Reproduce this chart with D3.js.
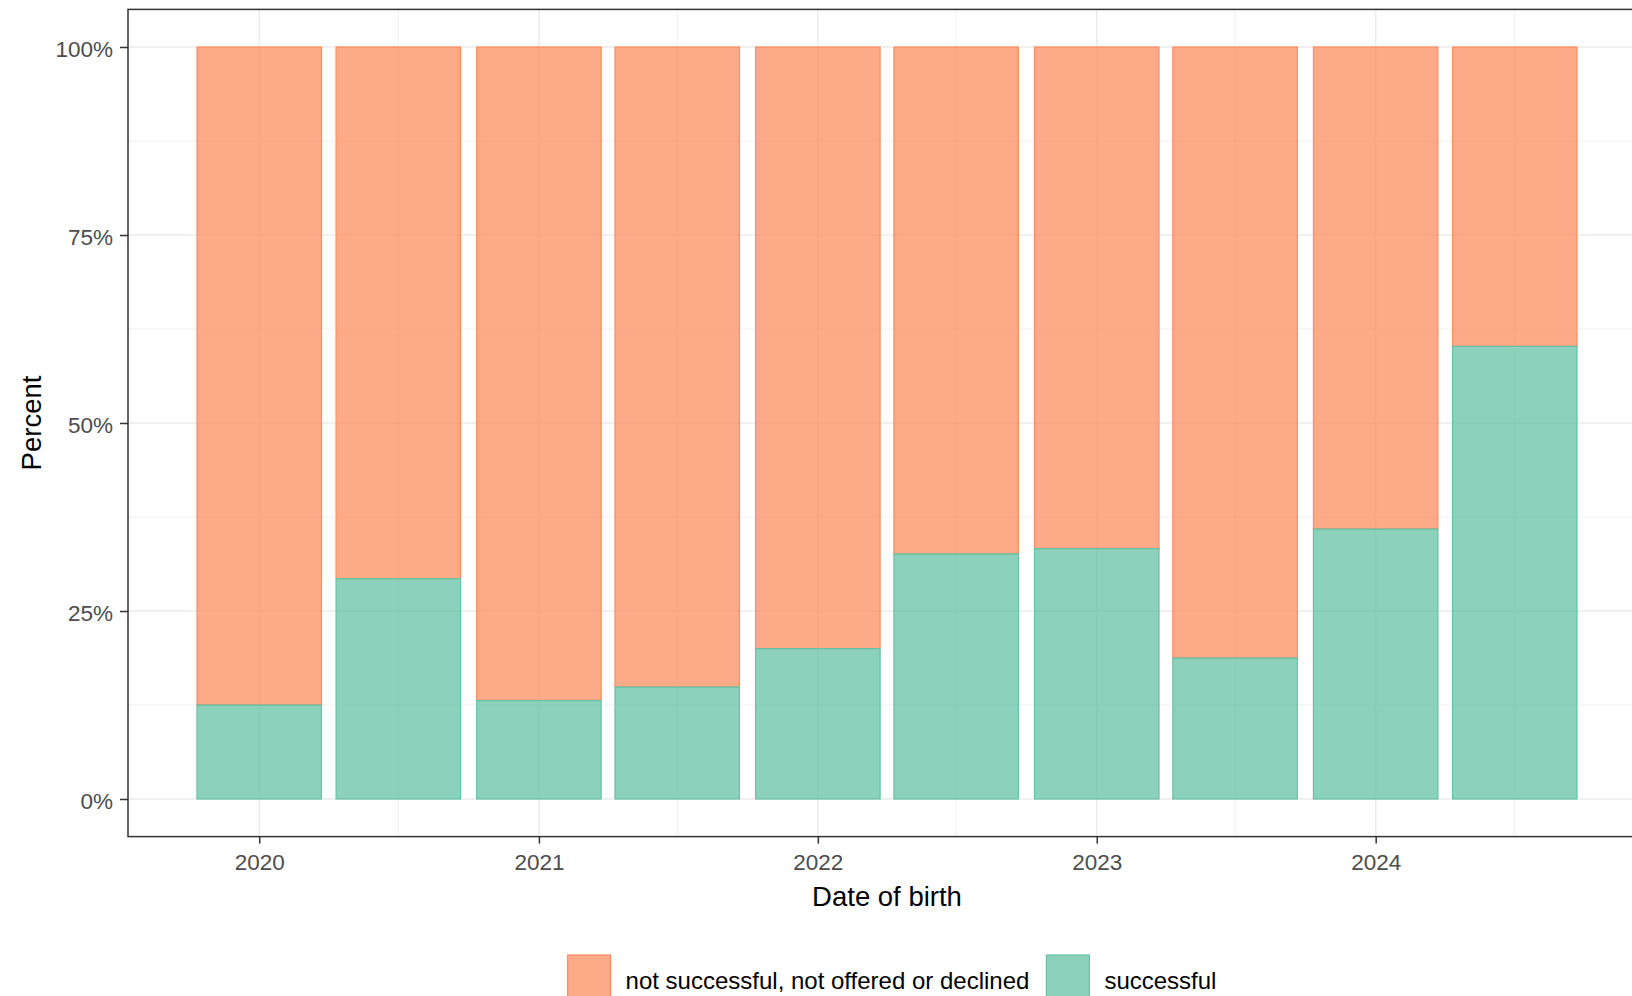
<!DOCTYPE html>
<html>
<head>
<meta charset="utf-8">
<script src="https://cdn.jsdelivr.net/npm/d3@7"></script>
<style>
  body { margin: 0; background: #fff; }
  svg { display: block; font-family: "Liberation Sans", Arial, sans-serif; }
</style>
</head>
<body>
<svg id="chart"></svg>
<script>
const width = 1632;
const height = 996;

// bar dates (every half year), shares in percent
const dates = ["2020-01-01", "2020-07-01", "2021-01-01", "2021-07-01", "2022-01-01",
               "2022-07-01", "2023-01-01", "2023-07-01", "2024-01-01", "2024-07-01"];
const successful    = [12.5, 29.3, 13.1, 14.9, 20.0, 32.6, 33.3, 18.75, 35.9, 60.2];
const notSuccessful = [87.5, 70.7, 86.9, 85.1, 80.0, 67.4, 66.7, 81.25, 64.1, 39.8];

const xTickYears = [2020, 2021, 2022, 2023, 2024];
const xMinorDates = ["2020-07-01", "2021-07-01", "2022-07-01", "2023-07-01", "2024-07-01"];
const yTicks = [0, 25, 50, 75, 100];
const yMinor = [12.5, 37.5, 62.5, 87.5];

const keys = ["successful", "notSuccessful"];
const legendLabels = ["not successful, not offered or declined", "successful"];
const colors = { notSuccessful: "#FC8D62", successful: "#66C2A5" };

const panel = { left: 128, right: 1646, top: 9.4, bottom: 836.6 };

const data = dates.map((d, i) => ({
  date: new Date(d + "T00:00:00Z"),
  successful: successful[i],
  notSuccessful: notSuccessful[i]
}));

// bar width like ggplot: 0.9 * smallest gap between dates
const gaps = d3.pairs(data, (a, b) => b.date - a.date);
const halfW = 0.9 * d3.min(gaps) / 2;
const lo = +data[0].date - halfW;
const hi = +data[data.length - 1].date + halfW;
const pad = (hi - lo) * 0.05;

const x = d3.scaleUtc()
  .domain([new Date(lo - pad), new Date(hi + pad)])
  .range([panel.left, panel.right]);

const y = d3.scaleLinear()
  .domain([-5, 105])
  .range([panel.bottom, panel.top]);

const svg = d3.select("#chart")
  .attr("width", width)
  .attr("height", height);

svg.append("defs").append("clipPath").attr("id", "clip")
  .append("rect")
  .attr("x", panel.left).attr("y", panel.top)
  .attr("width", panel.right - panel.left)
  .attr("height", panel.bottom - panel.top);

const plot = svg.append("g").attr("clip-path", "url(#clip)");

// grid
plot.selectAll(".hminor").data(yMinor).join("line")
  .attr("x1", panel.left).attr("x2", panel.right)
  .attr("y1", d => y(d)).attr("y2", d => y(d))
  .attr("stroke", "#EBEBEB").attr("stroke-width", 0.8);
plot.selectAll(".vminor").data(xMinorDates).join("line")
  .attr("x1", d => x(new Date(d + "T00:00:00Z"))).attr("x2", d => x(new Date(d + "T00:00:00Z")))
  .attr("y1", panel.top).attr("y2", panel.bottom)
  .attr("stroke", "#EBEBEB").attr("stroke-width", 0.8);
plot.selectAll(".hmajor").data(yTicks).join("line")
  .attr("x1", panel.left).attr("x2", panel.right)
  .attr("y1", d => y(d)).attr("y2", d => y(d))
  .attr("stroke", "#EBEBEB").attr("stroke-width", 1.5);
plot.selectAll(".vmajor").data(xTickYears).join("line")
  .attr("x1", d => x(Date.UTC(d, 0, 1))).attr("x2", d => x(Date.UTC(d, 0, 1)))
  .attr("y1", panel.top).attr("y2", panel.bottom)
  .attr("stroke", "#EBEBEB").attr("stroke-width", 1.5);

// stacked bars
const series = d3.stack().keys(keys)(data);

// draw the top (orange) layer first, green over it
series.slice().reverse().forEach(s => {
  plot.append("g").selectAll("rect").data(s).join("rect")
    .attr("x", d => x(+d.data.date - halfW))
    .attr("width", d => x(+d.data.date + halfW) - x(+d.data.date - halfW))
    .attr("y", d => y(d[1]))
    .attr("height", d => y(d[0]) - y(d[1]))
    .attr("fill", colors[s.key])
    .attr("fill-opacity", 0.75)
    .attr("stroke", colors[s.key])
    .attr("stroke-width", 1.2);
});

// panel border
svg.append("rect")
  .attr("x", panel.left).attr("y", panel.top)
  .attr("width", panel.right - panel.left)
  .attr("height", panel.bottom - panel.top)
  .attr("fill", "none")
  .attr("stroke", "#333333")
  .attr("stroke-width", 1.5);

// axes
const xAxis = svg.append("g")
  .attr("transform", `translate(0,${panel.bottom})`)
  .call(d3.axisBottom(x)
    .tickValues(xTickYears.map(yr => new Date(Date.UTC(yr, 0, 1))))
    .tickFormat(d3.utcFormat("%Y"))
    .tickSize(7)
    .tickPadding(10));

const yAxis = svg.append("g")
  .attr("transform", `translate(${panel.left},0)`)
  .call(d3.axisLeft(y)
    .tickValues(yTicks)
    .tickFormat(d => d + "%")
    .tickSize(8)
    .tickPadding(7));

[xAxis, yAxis].forEach(g => {
  g.select(".domain").remove();
  g.selectAll(".tick line").attr("stroke", "#333333").attr("stroke-width", 1.5);
  g.selectAll(".tick text")
    .attr("fill", "#4D4D4D")
    .style("font-size", "22.5px")
    .style("font-family", "'Liberation Sans', Arial, sans-serif");
});
yAxis.selectAll(".tick text").attr("dy", "0.42em");

// axis titles
svg.append("text")
  .attr("x", (panel.left + panel.right) / 2)
  .attr("y", 906)
  .attr("text-anchor", "middle")
  .style("font-size", "27.5px")
  .attr("fill", "#000")
  .text("Date of birth");

svg.append("text")
  .attr("transform", `translate(41,${(panel.top + panel.bottom) / 2}) rotate(-90)`)
  .attr("text-anchor", "middle")
  .style("font-size", "27.5px")
  .attr("fill", "#000")
  .text("Percent");

// legend
const keySize = 43;
const legend = svg.append("g");
const legendKeys = ["notSuccessful", "successful"];
let lx = 0;
legendKeys.forEach((k, i) => {
  const item = legend.append("g").attr("transform", `translate(${lx},0)`);
  item.append("rect")
    .attr("x", 0).attr("y", 0)
    .attr("width", keySize).attr("height", keySize)
    .attr("fill", colors[k]).attr("fill-opacity", 0.75)
    .attr("stroke", colors[k]).attr("stroke-width", 1.2);
  const t = item.append("text")
    .attr("x", keySize + 15)
    .attr("y", keySize / 2)
    .attr("dy", "0.5em")
    .style("font-size", "24px")
    .attr("fill", "#000")
    .text(legendLabels[i]);
  lx += keySize + 15 + t.node().getComputedTextLength() + 17;
});
const legendW = lx - 17;
legend.attr("transform", `translate(${892 - legendW / 2},955)`);
</script>
</body>
</html>
